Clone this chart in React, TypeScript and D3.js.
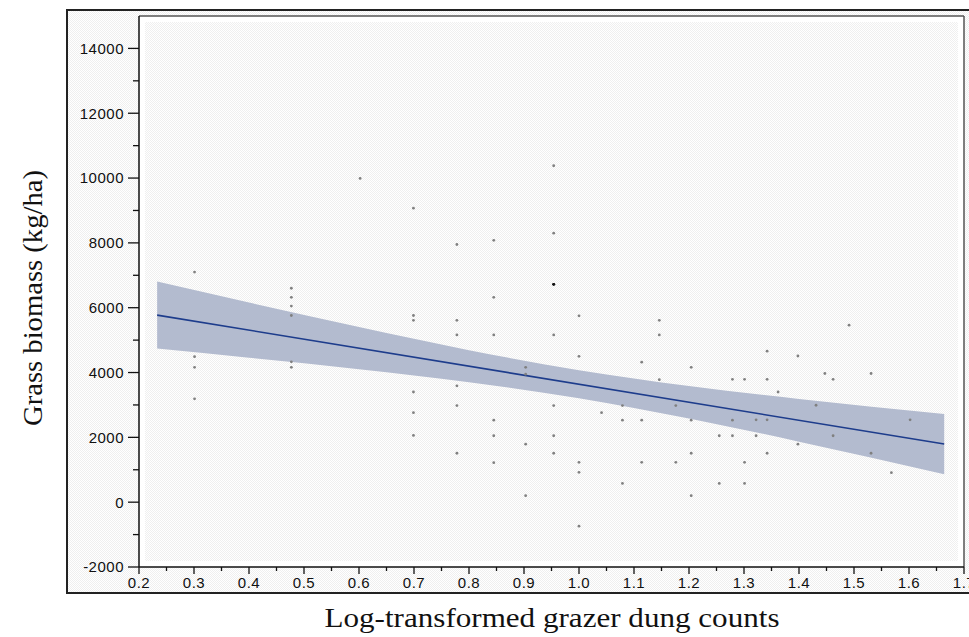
import React from "react";
import * as d3 from "d3";

// Log-transformed dung counts (x) and grass biomass in kg/ha (y)
const dungX: number[] = [
  0.301, 0.301, 0.301, 0.301,
  0.477, 0.477, 0.477, 0.477, 0.477, 0.477,
  0.602,
  0.699, 0.699, 0.699, 0.699, 0.699, 0.699,
  0.778, 0.778, 0.778, 0.778, 0.778, 0.778,
  0.845, 0.845, 0.845, 0.845, 0.845, 0.845,
  0.903, 0.903, 0.903, 0.903,
  0.954, 0.954, 0.954, 0.954, 0.954, 0.954, 0.954, 0.954,
  1.0, 1.0, 1.0, 1.0, 1.0,
  1.041,
  1.079, 1.079, 1.079,
  1.114, 1.114, 1.114,
  1.146, 1.146, 1.146,
  1.176, 1.176,
  1.204, 1.204, 1.204, 1.204,
  1.255, 1.255,
  1.279, 1.279, 1.279,
  1.301, 1.301, 1.301,
  1.322, 1.322,
  1.342, 1.342, 1.342, 1.342,
  1.362,
  1.398, 1.398,
  1.431,
  1.447,
  1.462, 1.462,
  1.491,
  1.531, 1.531,
  1.568,
  1.602,
];
const biomassY: number[] = [
  7100, 4490, 4160, 3190,
  6600, 6320, 6050, 5760, 4330, 4160,
  9990,
  9070, 5760, 5610, 3400, 2760, 2060,
  7950, 5610, 5160, 3590, 2980, 1510,
  8080, 6320, 5160, 2530, 2050, 1220,
  4160, 3950, 1790, 200,
  10380, 8300, 6720, 6720, 5160, 2980, 2050, 1510,
  5750, 4500, 1230, 920, -740,
  2760,
  2980, 2530, 580,
  4320, 2530, 1230,
  5610, 5160, 3780,
  2980, 1230,
  4160, 2530, 1510, 200,
  2050, 580,
  3790, 2530, 2050,
  3790, 1230, 580,
  2540, 2050,
  4660, 3790, 2540, 1510,
  3400,
  4510, 1790,
  2990,
  3970,
  3790, 2050,
  5460,
  3970, 1510,
  910,
  2540,
];
// points drawn darker (overplotted duplicates)
const darkPoint: number[] = [35, 36];

// Fitted regression line
const fitX: number[] = [0.233, 1.664];
const fitY: number[] = [5772, 1793];

// Confidence band
const bandX: number[] = [0.233, 0.4, 0.6, 0.8, 1.0, 1.2, 1.4, 1.664];
const bandUpper: number[] = [6805, 6158, 5401, 4688, 4069, 3582, 3186, 2723];
const bandLower: number[] = [4739, 4458, 4103, 3702, 3209, 2584, 1868, 863];

// Axis ticks
const xMajorTicks: number[] = [0.2, 0.3, 0.4, 0.5, 0.6, 0.7, 0.8, 0.9, 1.0, 1.1, 1.2, 1.3, 1.4, 1.5, 1.6, 1.7];
const xTickLabels: string[] = ["0.2", "0.3", "0.4", "0.5", "0.6", "0.7", "0.8", "0.9", "1.0", "1.1", "1.2", "1.3", "1.4", "1.5", "1.6", "1.7"];
const xMinorTicks: number[] = [0.25, 0.35, 0.45, 0.55, 0.65, 0.75, 0.85, 0.95, 1.05, 1.15, 1.25, 1.35, 1.45, 1.55, 1.65];
const yMajorTicks: number[] = [-2000, 0, 2000, 4000, 6000, 8000, 10000, 12000, 14000];
const yMinorTicks: number[] = [-1000, 1000, 3000, 5000, 7000, 9000, 11000, 13000];

const xTitle = "Log-transformed grazer dung counts";
const yTitle = "Grass biomass (kg/ha)";

const W = 969;
const H = 637;
const L = 139;
const R = 964;
const T = 16;
const B = 567;

export default function App() {
  const x = d3.scaleLinear().domain([0.2, 1.7]).range([L, R]);
  const y = d3.scaleLinear().domain([-2000, 15000]).range([B, T]);

  const bandData = bandX.map((v, i) => ({ x: v, lo: bandLower[i], hi: bandUpper[i] }));
  const area = d3
    .area<{ x: number; lo: number; hi: number }>()
    .x((d) => x(d.x))
    .y0((d) => y(d.lo))
    .y1((d) => y(d.hi))
    .curve(d3.curveMonotoneX);
  const line = d3
    .line<number>()
    .x((d) => x(d))
    .y((_, i) => y(fitY[i]));

  const tickFont = "'Liberation Sans', Arial, Helvetica, sans-serif";
  const titleFont = "'Liberation Serif', 'Times New Roman', serif";

  return (
    <svg
      width={W}
      height={H}
      viewBox={`0 0 ${W} ${H}`}
      style={{ position: "absolute", left: 0, top: 0, background: "#fff" }}
    >
      <defs>
        <pattern id="stip" width="2" height="2" patternUnits="userSpaceOnUse">
          <rect x="0" y="0" width="2" height="2" fill="#ffffff" />
          <rect x="0" y="0" width="1" height="1" fill="#efefef" />
          <rect x="1" y="1" width="1" height="1" fill="#efefef" />
        </pattern>
      </defs>

      {/* outer frame */}
      <rect x={67} y={10} width={920} height={583} fill="url(#stip)" stroke="#222" strokeWidth={2} />

      {/* plot area */}
      <rect x={L} y={T} width={R - L} height={B - T} fill="#ffffff" />
      <rect x={L + 6} y={T + 6} width={R - L - 12} height={B - T - 12} fill="url(#stip)" />

      {/* confidence band */}
      <path d={area(bandData) || ""} fill="#b3bbcf" stroke="none" />
      {/* regression line */}
      <path d={line(fitX) || ""} fill="none" stroke="#1d3c8c" strokeWidth={1.6} />

      {/* points */}
      {dungX.map((v, i) => (
        <circle
          key={i}
          cx={x(v)}
          cy={y(biomassY[i])}
          r={1.4}
          fill={darkPoint.includes(i) ? "#111" : "#808080"}
        />
      ))}

      {/* plot border */}
      <line x1={L} x2={R} y1={T} y2={T} stroke="#555" strokeWidth={1.5} />
      <line x1={R} x2={R} y1={T} y2={B} stroke="#555" strokeWidth={1.5} />
      <line x1={L} x2={L} y1={T} y2={B} stroke="#111" strokeWidth={1.5} />
      <line x1={L} x2={R} y1={B} y2={B} stroke="#111" strokeWidth={1.5} />

      {/* y ticks */}
      {yMajorTicks.map((t) => (
        <g key={"ym" + t}>
          <line x1={L - 11} x2={L} y1={y(t)} y2={y(t)} stroke="#111" strokeWidth={1.3} />
          <text
            x={L - 15}
            y={y(t)}
            dy="0.36em"
            textAnchor="end"
            fontFamily={tickFont}
            fontSize={15}
            letterSpacing={0.5}
            fill="#111"
          >
            {t}
          </text>
        </g>
      ))}
      {yMinorTicks.map((t) => (
        <line key={"yn" + t} x1={L - 6} x2={L} y1={y(t)} y2={y(t)} stroke="#111" strokeWidth={1.3} />
      ))}

      {/* x ticks */}
      {xMajorTicks.map((t, i) => (
        <g key={"xm" + t}>
          <line x1={x(t)} x2={x(t)} y1={B} y2={B + 7} stroke="#111" strokeWidth={1.3} />
          <text
            x={x(t)}
            y={588}
            textAnchor="middle"
            fontFamily={tickFont}
            fontSize={15}
            letterSpacing={0.5}
            fill="#111"
          >
            {xTickLabels[i]}
          </text>
        </g>
      ))}
      {xMinorTicks.map((t) => (
        <line key={"xn" + t} x1={x(t)} x2={x(t)} y1={B} y2={B + 4} stroke="#111" strokeWidth={1.3} />
      ))}

      {/* titles */}
      <text
        x={552}
        y={627}
        textAnchor="middle"
        fontFamily={titleFont}
        fontSize={28}
        fill="#111"
        textLength={455}
        lengthAdjust="spacingAndGlyphs"
      >
        {xTitle}
      </text>
      <text
        transform="translate(42, 298) rotate(-90)"
        textAnchor="middle"
        fontFamily={titleFont}
        fontSize={28}
        fill="#111"
        textLength={256}
        lengthAdjust="spacingAndGlyphs"
      >
        {yTitle}
      </text>
    </svg>
  );
}
